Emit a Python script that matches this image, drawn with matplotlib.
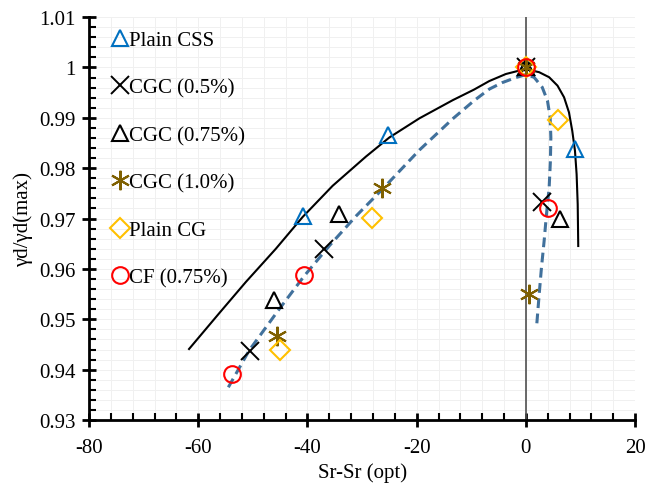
import matplotlib
matplotlib.use("Agg")
import matplotlib.pyplot as plt
from matplotlib.ticker import MultipleLocator, FuncFormatter

plt.rcParams["font.family"] = ["Liberation Serif", "DejaVu Serif"]
plt.rcParams["font.size"] = 15
plt.rcParams["axes.unicode_minus"] = False

# measured points, Sr-Sr(opt) vs normalised dry density
css_x = [0.0, -40.8, -25.2, 9.0]
css_y = [1.0, 0.9705, 0.9866, 0.9838]
cgc05_x = [0.0, -50.5, -36.9, 2.9]
cgc05_y = [1.0, 0.9437, 0.9639, 0.9733]
cgc075_x = [0.0, -46.1, -34.3, 6.2]
cgc075_y = [1.0, 0.9539, 0.9709, 0.9700]
cgc10_x = [0.0, -45.5, -26.3, 0.5]
cgc10_y = [1.0, 0.9466, 0.9760, 0.9551]
cg_x = [0.0, -45.0, -28.2, 5.8]
cg_y = [1.0, 0.9440, 0.9702, 0.9896]
cf_x = [0.0, -53.8, -40.7, 4.0]
cf_y = [1.0, 0.9392, 0.9587, 0.9720]

# upper envelope (solid)
upper_x = [-61.7, -56.1, -51.3, -45.8, -40.9, -35.4, -29.3, -25.0, -19.5, -13.4,
           -9.5, -6.7, -3.66, -1.23, 0.6, 2.44, 4.27, 5.8, 7.0, 7.9,
           8.5, 9.0, 9.3, 9.5, 9.6]
upper_y = [0.9441, 0.9513, 0.9574, 0.9640, 0.9703, 0.9765, 0.9823, 0.9861, 0.9899, 0.9935,
           0.9956, 0.9973, 0.9987, 0.99937, 0.99951, 0.99906, 0.99806, 0.99639, 0.99408, 0.99109,
           0.98743, 0.98345, 0.97882, 0.97285, 0.96455]

# lower envelope (dashed)
lower_x = [-54.5, -50.7, -45.2, -40.6, -36.0, -31.1, -26.3, -19.5, -13.4, -9.5,
           -6.7, -4.3, -1.8, 0.0, 1.5, 3.0, 3.96, 4.45, 4.58, 4.5,
           4.27, 3.78, 3.35, 2.86, 2.44, 1.95]
lower_y = [0.9365, 0.9438, 0.9520, 0.9586, 0.9646, 0.9705, 0.9758, 0.9836, 0.9898, 0.9934,
           0.9957, 0.9970, 0.9980, 0.99858, 0.99806, 0.99607, 0.9934, 0.9901, 0.98612, 0.98146,
           0.97617, 0.97086, 0.96555, 0.96025, 0.95493, 0.94831]

fig, ax = plt.subplots(figsize=(6.46, 4.89), dpi=100)
fig.subplots_adjust(left=0.138, right=0.983, top=0.963, bottom=0.139)

ax.set_xlim(-80, 20)
ax.set_ylim(0.93, 1.01)
ax.xaxis.set_major_locator(MultipleLocator(20))
ax.xaxis.set_minor_locator(MultipleLocator(4))
ax.yaxis.set_major_locator(MultipleLocator(0.01))
ax.yaxis.set_minor_locator(MultipleLocator(0.002))
ax.yaxis.set_major_formatter(FuncFormatter(lambda v, _: f"{v:.2f}".rstrip("0").rstrip(".")))

ax.grid(which="both", color="#f0f0f0", linewidth=0.7)
ax.set_axisbelow(True)
for s in ("top", "right"):
    ax.spines[s].set_visible(False)
for s in ("left", "bottom"):
    ax.spines[s].set_linewidth(2)
ax.tick_params(which="major", direction="inout", length=10, width=2)
ax.tick_params(axis="x", which="major", pad=8)
ax.tick_params(axis="y", which="major", pad=5)
ax.tick_params(which="minor", direction="in", length=5, width=1.5)

ax.axvline(0, color="#505050", linewidth=1.2, zorder=2)
ax.plot(upper_x, upper_y, color="black", linewidth=1.5, zorder=3)
ax.plot(lower_x, lower_y, color="#41719c", linewidth=2.2, linestyle=(0, (3.2, 1.8)), zorder=3)

mk = dict(linestyle="none", markersize=12, zorder=4)
ax.plot(css_x, css_y, marker="^", markerfacecolor="none", markeredgecolor="#0070c0",
        markeredgewidth=1.5, label="Plain CSS", **mk)
ax.plot(cgc05_x, cgc05_y, marker="x", color="black", markeredgewidth=1.4,
        label="CGC (0.5%)", linestyle="none", markersize=13, zorder=4)
ax.plot(cgc075_x, cgc075_y, marker="^", markerfacecolor="none", markeredgecolor="black",
        markeredgewidth=1.5, label="CGC (0.75%)", **mk)
ax.plot(cgc10_x, cgc10_y, marker=(6, 2, 0), color="#7f6000", markeredgewidth=1.5,
        label="CGC (1.0%)", linestyle="none", markersize=14, zorder=4)
ax.plot(cg_x, cg_y, marker="D", markerfacecolor="none", markeredgecolor="#ffc000",
        markeredgewidth=1.5, markersize=10, linestyle="none", zorder=4, label="Plain CG")
ax.plot(cf_x, cf_y, marker="o", markerfacecolor="none", markeredgecolor="#ff0000",
        markeredgewidth=1.5, label="CF (0.75%)", **mk)

ax.legend(loc="upper left", bbox_to_anchor=(0.02, 1.0), frameon=False,
          handlelength=0.6, handletextpad=0.15, labelspacing=1.34, fontsize=15,
          borderaxespad=0.25)

ax.set_xlabel("Sr-Sr (opt)", fontsize=15)
ax.set_ylabel("γd/γd(max)", fontsize=15)

fig.savefig("out.png", dpi=100)
